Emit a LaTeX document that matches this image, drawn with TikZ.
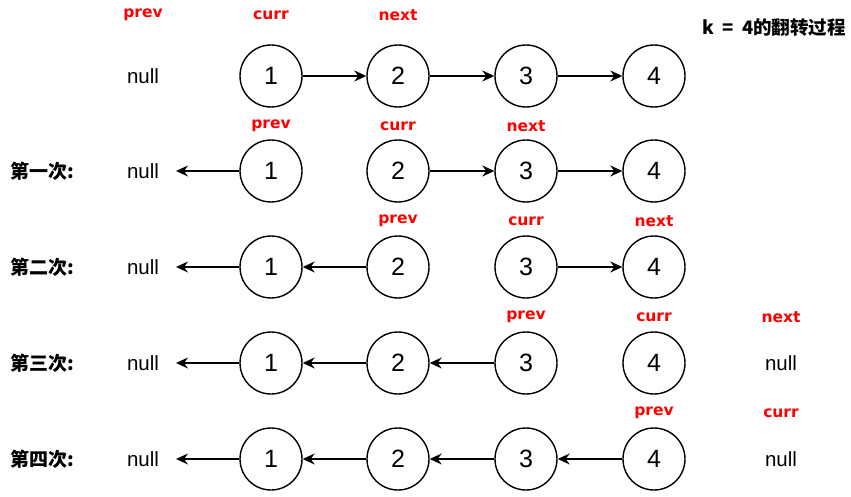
\documentclass[tikz,border=0pt]{standalone}
\usepackage{fontspec}
\setmainfont{Liberation Sans}
\newfontfamily\cjk{Noto Sans CJK SC}
\newfontfamily\lblfont{DejaVu Sans}
\usetikzlibrary{arrows.meta}
\begin{document}
\begin{tikzpicture}[x=1pt,y=-1pt,
  nd/.style={circle,draw,line width=1.4pt,minimum size=62pt,inner sep=0pt,font=\fontsize{25}{25}\selectfont},
  lbl/.style={text=red,font=\lblfont\bfseries\fontsize{15.5}{15.5}\selectfont},
  nul/.style={font=\fontsize{20.5}{20.5}\selectfont},
  rowl/.style={font=\cjk\bfseries\fontsize{19}{19}\selectfont},
  arr/.style={line width=1.4pt,-{Stealth[length=12pt,width=11pt,inset=4pt]}}]
\useasboundingbox (0,0) rectangle (851,497);
\node[font=\cjk\bfseries\fontsize{18.5}{18.5}\selectfont,anchor=east,inner sep=0pt] (title) at (846,28) {k\ \ =\ \ 4的翻转过程};
% row 0
\node[lbl] (l0a) at (143,15) {prev};
\node[lbl] (l0b) at (271,15) {curr};
\node[lbl] (l0c) at (398,15) {next};
\node[nul] (n0) at (143,76) {null};
\node[nd] (a1) at (271,76) {1};
\node[nd] (a2) at (398,76) {2};
\node[nd] (a3) at (526,76) {3};
\node[nd] (a4) at (654,76) {4};
\draw[arr] (a1) -- (a2);
\draw[arr] (a2) -- (a3);
\draw[arr] (a3) -- (a4);
% row 1
\node[rowl] (r1) at (42,171) {第一次:};
\node[lbl] (l1a) at (271,126) {prev};
\node[lbl] (l1b) at (398,126) {curr};
\node[lbl] (l1c) at (526,126) {next};
\node[nul] (n1) at (143,171) {null};
\coordinate (e1) at (176,171);
\node[nd] (b1) at (271,171) {1};
\node[nd] (b2) at (398,171) {2};
\node[nd] (b3) at (526,171) {3};
\node[nd] (b4) at (654,171) {4};
\draw[arr] (b1) -- (e1);
\draw[arr] (b2) -- (b3);
\draw[arr] (b3) -- (b4);
% row 2
\node[rowl] (r2) at (42,267) {第二次:};
\node[lbl] (l2a) at (398,221) {prev};
\node[lbl] (l2b) at (526,221) {curr};
\node[lbl] (l2c) at (654,221) {next};
\node[nul] (n2) at (143,267) {null};
\coordinate (e2) at (176,267);
\node[nd] (c1) at (271,267) {1};
\node[nd] (c2) at (398,267) {2};
\node[nd] (c3) at (526,267) {3};
\node[nd] (c4) at (654,267) {4};
\draw[arr] (c1) -- (e2);
\draw[arr] (c2) -- (c1);
\draw[arr] (c3) -- (c4);
% row 3
\node[rowl] (r3) at (42,363) {第三次:};
\node[lbl] (l3a) at (526,317) {prev};
\node[lbl] (l3b) at (654,317) {curr};
\node[lbl] (l3c) at (781,317) {next};
\node[nul] (n3) at (143,363) {null};
\coordinate (e3) at (176,363);
\node[nd] (d1) at (271,363) {1};
\node[nd] (d2) at (398,363) {2};
\node[nd] (d3) at (526,363) {3};
\node[nd] (d4) at (654,363) {4};
\node[nul] (m3) at (781,363) {null};
\draw[arr] (d1) -- (e3);
\draw[arr] (d2) -- (d1);
\draw[arr] (d3) -- (d2);
% row 4
\node[rowl] (r4) at (42,459) {第四次:};
\node[lbl] (l4a) at (654,413) {prev};
\node[lbl] (l4b) at (781,413) {curr};
\node[nul] (n4) at (143,459) {null};
\coordinate (e4) at (176,459);
\node[nd] (f1) at (271,459) {1};
\node[nd] (f2) at (398,459) {2};
\node[nd] (f3) at (526,459) {3};
\node[nd] (f4) at (654,459) {4};
\node[nul] (m4) at (781,459) {null};
\draw[arr] (f1) -- (e4);
\draw[arr] (f2) -- (f1);
\draw[arr] (f3) -- (f2);
\draw[arr] (f4) -- (f3);
\end{tikzpicture}
\end{document}
